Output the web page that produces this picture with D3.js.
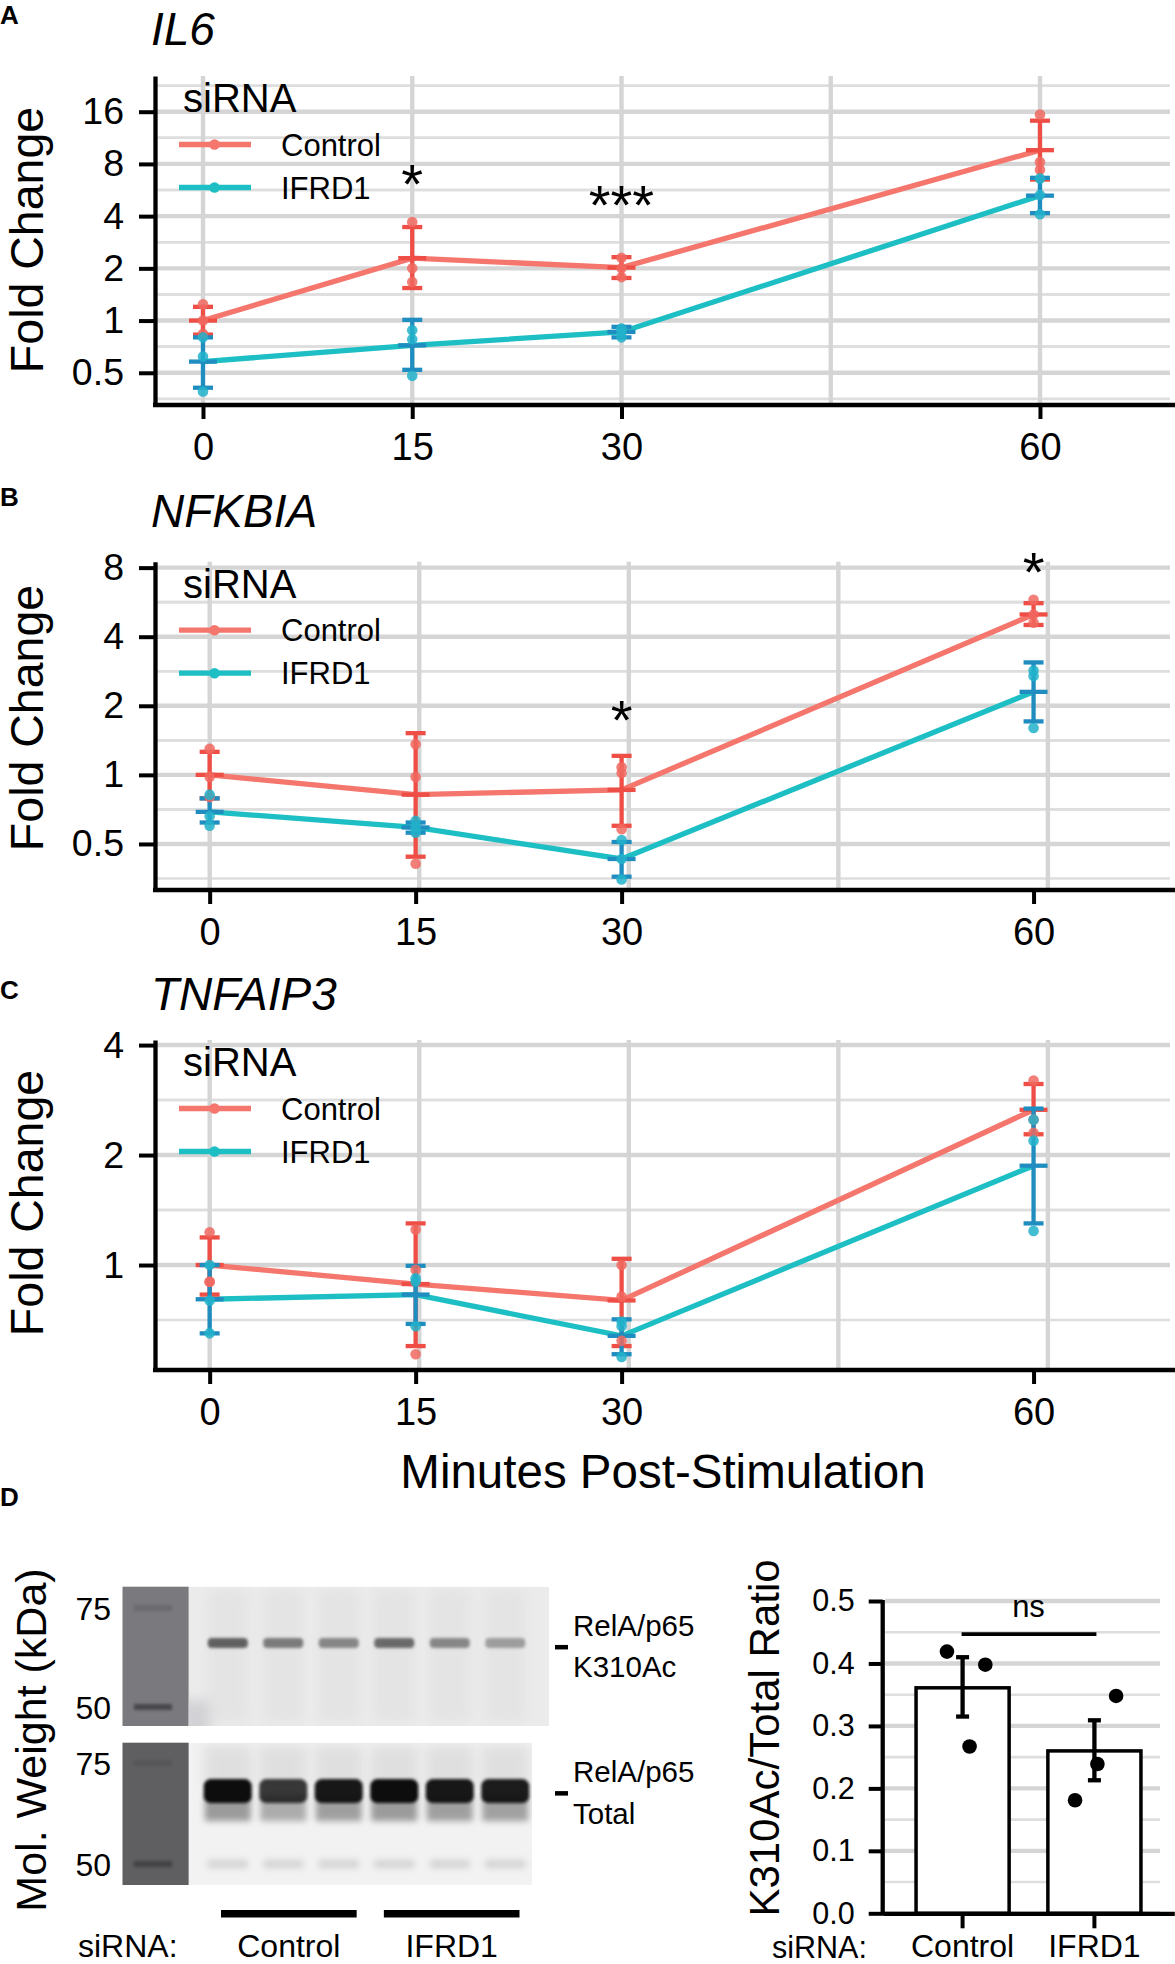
<!DOCTYPE html>
<html>
<head>
<meta charset="utf-8">
<script src="https://cdn.jsdelivr.net/npm/d3@7"></script>
<style>
  body { margin: 0; background: #fff; }
  svg { display: block; }
  text { font-family: "Liberation Sans", Arial, Helvetica, sans-serif; }
</style>
</head>
<body>
<svg id="fig" width="1175" height="1964"></svg>
<script>
// ---- data ----
const minutes = [0, 15, 30, 60]
const gridMinutes = [0, 15, 30, 45, 60]
const groups = ["Control", "IFRD1"]

// IL6
const il6CtrlMean = [1.0, 2.29, 2.02, 9.6]
const il6CtrlLo = [0.83, 1.54, 1.76, 6.5]
const il6CtrlHi = [1.2, 3.46, 2.32, 14.2]
const il6CtrlPts = [[1.24, 1.0, 0.84], [3.7, 2.0, 1.67], [2.3, 2.0, 1.78], [15.4, 8.2, 7.4]]
const il6IfrdMean = [0.58, 0.72, 0.86, 5.25]
const il6IfrdLo = [0.41, 0.52, 0.80, 4.16]
const il6IfrdHi = [0.80, 1.01, 0.92, 6.65]
const il6IfrdPts = [[0.80, 0.62, 0.39], [0.88, 0.78, 0.48], [0.90, 0.86, 0.80], [6.6, 5.3, 4.1]]
const il6Sig = [{ t: 15, v: 6.9, label: "*" }, { t: 30, v: 5.2, label: "***" }]

// NFKBIA
const nfkCtrlMean = [1.0, 0.82, 0.86, 5.0]
const nfkCtrlLo = [0.79, 0.44, 0.60, 4.5]
const nfkCtrlHi = [1.26, 1.52, 1.21, 5.6]
const nfkCtrlPts = [[1.3, 0.98, 0.80], [1.36, 0.98, 0.41], [1.08, 1.02, 0.58], [5.8, 5.0, 4.6]]
const nfkIfrdMean = [0.69, 0.59, 0.43, 2.30]
const nfkIfrdLo = [0.62, 0.56, 0.36, 1.71]
const nfkIfrdHi = [0.79, 0.62, 0.51, 3.09]
const nfkIfrdPts = [[0.82, 0.66, 0.60], [0.63, 0.59, 0.56], [0.52, 0.43, 0.35], [2.85, 2.7, 1.6]]
const nfkSig = [{ t: 30, v: 1.9, label: "*" }, { t: 60, v: 8.34, label: "*" }]

// TNFAIP3
const tnfCtrlMean = [1.0, 0.887, 0.80, 2.66]
const tnfCtrlLo = [0.83, 0.60, 0.60, 2.28]
const tnfCtrlHi = [1.19, 1.30, 1.04, 3.13]
const tnfCtrlPts = [[1.23, 0.90, 0.90], [1.25, 0.97, 0.57], [1.0, 0.82, 0.62], [3.2, 2.5, 2.3]]
const tnfIfrdMean = [0.806, 0.83, 0.64, 1.87]
const tnfIfrdLo = [0.65, 0.69, 0.57, 1.30]
const tnfIfrdHi = [1.0, 0.995, 0.71, 2.68]
const tnfIfrdPts = [[1.0, 0.80, 0.65], [0.92, 0.90, 0.68], [0.70, 0.68, 0.56], [2.5, 2.19, 1.24]]
const tnfSig = []

// western blot (panel D)
const laneIds = [1, 2, 3, 4, 5, 6]
const acBandStrength = [0.78, 0.62, 0.55, 0.72, 0.55, 0.42]
const totalBandStrength = [1.0, 0.8, 0.95, 1.0, 0.95, 0.93]
const kdaTicks = [75, 50]
const bandKdaAc = 65
const bandKdaTotal = 67

// K310Ac / total ratio (panel D, right)
const ratioMean = [0.361, 0.260]
const ratioLo = [0.315, 0.213]
const ratioHi = [0.41, 0.309]
const ratioPts = [[0.419, 0.398, 0.267], [0.348, 0.239, 0.181]]
const ratioJitter = [[-0.168, 0.244, 0.075], [0.233, 0.032, -0.208]]
const ratioTicks = [0, 0.1, 0.2, 0.3, 0.4, 0.5]
const ratioMinor = [0.05, 0.15, 0.25, 0.35, 0.45]

// ---- colours ----
const lineCol = { Control: "#F4766D", IFRD1: "#1DBFC4" }
const barCol = { Control: "#EE4E45", IFRD1: "#1F8DBF" }
const ptCol = { Control: "#F06860", IFRD1: "#22B2CA" }
const gridMajor = "#d5d5d5"
const gridMinor = "#dedede"

const svg = d3.select("#fig")

function styleAxis(g, fs) {
    g.attr("font-family", null).attr("font-size", null)
    g.select(".domain").attr("stroke", "#000").attr("stroke-width", 4.3)
    g.selectAll(".tick line").attr("stroke", "#000").attr("stroke-width", 4)
    g.selectAll(".tick text").attr("fill", "#000").style("font-size", fs + "px")
}

function series(mean, lo, hi, pts) {
    return minutes.map((t, i) => ({ t: t, mean: mean[i], lo: lo[i], hi: hi[i], pts: pts[i] }))
}

const panels = [
    {
        letter: "A", gene: "IL6", top: 76, bottom: 405,
        yDomain: [0.326, 25.7], yTicks: [0.5, 1, 2, 4, 8, 16],
        xDomain: [-3.44, 69.68], gridRange: [203, 1040],
        titleBase: 45, letterBase: 24, yTitleY: 240,
        ctrl: series(il6CtrlMean, il6CtrlLo, il6CtrlHi, il6CtrlPts),
        ifrd: series(il6IfrdMean, il6IfrdLo, il6IfrdHi, il6IfrdPts),
        sig: il6Sig
    },
    {
        letter: "B", gene: "NFKBIA", top: 561.7, bottom: 890,
        yDomain: [0.315, 8.49], yTicks: [0.5, 1, 2, 4, 8],
        xDomain: [-3.98, 70.3], gridRange: [209.7, 1047.9],
        titleBase: 527, letterBase: 506, yTitleY: 718,
        ctrl: series(nfkCtrlMean, nfkCtrlLo, nfkCtrlHi, nfkCtrlPts),
        ifrd: series(nfkIfrdMean, nfkIfrdLo, nfkIfrdHi, nfkIfrdPts),
        sig: nfkSig
    },
    {
        letter: "C", gene: "TNFAIP3", top: 1040, bottom: 1370,
        yDomain: [0.516, 4.13], yTicks: [1, 2, 4],
        xDomain: [-3.98, 70.3], gridRange: [209.7, 1047.9],
        titleBase: 1010, letterBase: 999, yTitleY: 1203,
        ctrl: series(tnfCtrlMean, tnfCtrlLo, tnfCtrlHi, tnfCtrlPts),
        ifrd: series(tnfIfrdMean, tnfIfrdLo, tnfIfrdHi, tnfIfrdPts),
        sig: tnfSig
    }
]

const plotLeft = 155, plotRight = 1175, gridRight = 1170

function drawPanel(p) {
    const g = svg.append("g")
    const x = d3.scaleLinear().domain(p.xDomain).range([plotLeft, plotRight])
    const gx = d3.scaleLinear().domain([0, 60]).range(p.gridRange)
    const y = d3.scaleLog().base(2).domain(p.yDomain).range([p.bottom, p.top])

    const minor = Array.from(new Set(p.yTicks.flatMap(t => [t / Math.SQRT2, t * Math.SQRT2])))
        .filter(v => v > p.yDomain[0] && v < p.yDomain[1])

    // grid
    g.selectAll(".gmin").data(minor).enter().append("line")
        .attr("x1", plotLeft).attr("x2", gridRight)
        .attr("y1", d => y(d)).attr("y2", d => y(d))
        .attr("stroke", gridMinor).attr("stroke-width", 2.6)
    g.selectAll(".gmaj").data(p.yTicks).enter().append("line")
        .attr("x1", plotLeft).attr("x2", gridRight)
        .attr("y1", d => y(d)).attr("y2", d => y(d))
        .attr("stroke", gridMajor).attr("stroke-width", 4.4)
    g.selectAll(".gv").data(gridMinutes).enter().append("line")
        .attr("x1", d => gx(d)).attr("x2", d => gx(d))
        .attr("y1", p.top).attr("y2", p.bottom)
        .attr("stroke", gridMajor).attr("stroke-width", 4.4)

    // lines
    const line = d3.line().x(d => x(d.t)).y(d => y(d.mean))
    const both = [["Control", p.ctrl], ["IFRD1", p.ifrd]]
    both.forEach(([name, s]) => {
        g.append("path").datum(s).attr("d", line)
            .attr("fill", "none").attr("stroke", lineCol[name]).attr("stroke-width", 5.3)
    })

    // error bars + mean crossbars
    both.forEach(([name, s]) => {
        const eb = g.append("g").attr("stroke", barCol[name]).attr("stroke-width", 4.3)
        eb.selectAll(".v").data(s).enter().append("line")
            .attr("x1", d => x(d.t)).attr("x2", d => x(d.t))
            .attr("y1", d => y(d.lo)).attr("y2", d => y(d.hi))
        eb.selectAll(".lo").data(s).enter().append("line")
            .attr("x1", d => x(d.t) - 10).attr("x2", d => x(d.t) + 10)
            .attr("y1", d => y(d.lo)).attr("y2", d => y(d.lo))
        eb.selectAll(".hi").data(s).enter().append("line")
            .attr("x1", d => x(d.t) - 10).attr("x2", d => x(d.t) + 10)
            .attr("y1", d => y(d.hi)).attr("y2", d => y(d.hi))
        eb.selectAll(".m").data(s).enter().append("line")
            .attr("x1", d => x(d.t) - 14).attr("x2", d => x(d.t) + 14)
            .attr("y1", d => y(d.mean)).attr("y2", d => y(d.mean))
    })

    // replicate points
    both.forEach(([name, s]) => {
        const pts = s.flatMap(d => d.pts.map(v => ({ t: d.t, v: v })))
        g.selectAll(".pt-" + name).data(pts).enter().append("circle")
            .attr("cx", d => x(d.t)).attr("cy", d => y(d.v)).attr("r", 5.3)
            .attr("fill", ptCol[name]).attr("fill-opacity", 0.85)
    })

    // axes
    const ay = g.append("g").attr("transform", `translate(${plotLeft},0)`)
        .call(d3.axisLeft(y).tickValues(p.yTicks).tickFormat(d3.format("~g"))
            .tickSize(16).tickSizeOuter(0).tickPadding(15))
    styleAxis(ay, 37.5)
    const ax = g.append("g").attr("transform", `translate(0,${p.bottom})`)
        .call(d3.axisBottom(x).tickValues(minutes).tickFormat(d3.format("d"))
            .tickSize(14).tickSizeOuter(0).tickPadding(14))
    styleAxis(ax, 38)
    ax.select(".domain").attr("d", `M${plotLeft - 2},0H${plotRight}`)

    // legend
    const lg = g.append("g")
    lg.append("text").attr("x", 183).attr("y", p.top + 36)
        .style("font-size", "40px").text("siRNA")
    groups.forEach((name, i) => {
        const ly = p.top + 68.5 + i * 43
        lg.append("line").attr("x1", 179).attr("x2", 251).attr("y1", ly).attr("y2", ly)
            .attr("stroke", lineCol[name]).attr("stroke-width", 5.3)
        lg.append("circle").attr("cx", 214.5).attr("cy", ly).attr("r", 5.3).attr("fill", lineCol[name])
        lg.append("text").attr("x", 281).attr("y", ly + 11)
            .style("font-size", "31px").text(name)
    })

    // significance
    g.selectAll(".sig").data(p.sig).enter().append("text")
        .attr("x", d => x(d.t)).attr("y", d => y(d.v) + 28)
        .attr("text-anchor", "middle").style("font-size", "56px").text(d => d.label)

    // titles
    g.append("text").attr("x", 151).attr("y", p.titleBase)
        .style("font-size", "46px").style("font-style", "italic").text(p.gene)
    g.append("text").attr("x", 0).attr("y", p.letterBase)
        .style("font-size", "26px").style("font-weight", "bold").text(p.letter)
    g.append("text").attr("transform", `translate(43,${p.yTitleY}) rotate(-90)`)
        .attr("text-anchor", "middle").style("font-size", "46.5px").text("Fold Change")
}

panels.forEach(drawPanel)

svg.append("text").attr("x", 663).attr("y", 1488).attr("text-anchor", "middle")
    .style("font-size", "47.5px").text("Minutes Post-Stimulation")

// ---- panel D: blot ----
svg.append("text").attr("x", 0).attr("y", 1506)
    .style("font-size", "26px").style("font-weight", "bold").text("D")

const defs = svg.append("defs")
defs.append("filter").attr("id", "b1").attr("x", "-50%").attr("y", "-100%").attr("width", "200%").attr("height", "300%")
    .append("feGaussianBlur").attr("stdDeviation", 1.6)
defs.append("filter").attr("id", "b3").attr("x", "-50%").attr("y", "-100%").attr("width", "200%").attr("height", "300%")
    .append("feGaussianBlur").attr("stdDeviation", 3)
defs.append("filter").attr("id", "b6").attr("x", "-50%").attr("y", "-50%").attr("width", "200%").attr("height", "200%")
    .append("feGaussianBlur").attr("stdDeviation", 6)
defs.append("clipPath").attr("id", "clipTop")
    .append("rect").attr("x", 188.7).attr("y", 1586.7).attr("width", 360.3).attr("height", 139.3)
defs.append("clipPath").attr("id", "clipBot")
    .append("rect").attr("x", 188.7).attr("y", 1742.7).attr("width", 343.3).attr("height", 142.3)

const lane = d3.scaleBand().domain(laneIds).range([200, 533])
const laneC = d => lane(d) + lane.bandwidth() / 2
const kdaTop = d3.scaleLog().domain([50, 75]).range([1707, 1608])
const kdaBot = d3.scaleLog().domain([50, 75]).range([1864, 1763])

// ladders
const ladder = [
    { y0: 1586.7, y1: 1726, fill: "#7a7a7e", mark: "#3e3e42", scale: kdaTop },
    { y0: 1742.7, y1: 1885, fill: "#5f5f61", mark: "#3c3c3e", scale: kdaBot }
]
ladder.forEach(l => {
    svg.append("rect").attr("x", 122.5).attr("y", l.y0).attr("width", 66.2).attr("height", l.y1 - l.y0)
        .attr("fill", l.fill)
    svg.selectAll(null).data(kdaTicks).enter().append("rect")
        .attr("x", 134).attr("y", d => l.scale(d) - 3).attr("width", 38).attr("height", 6)
        .attr("fill", l.mark).attr("opacity", d => d === 50 ? 0.85 : 0.25).attr("filter", "url(#b1)")
    svg.selectAll(null).data(kdaTicks).enter().append("text")
        .attr("x", 111).attr("y", d => l.scale(d)).attr("dy", "0.36em").attr("text-anchor", "end")
        .style("font-size", "32px").text(d => d)
})

// top blot (K310Ac)
const topG = svg.append("g").attr("clip-path", "url(#clipTop)")
topG.append("rect").attr("x", 188.7).attr("y", 1586.7).attr("width", 360.3).attr("height", 139.3).attr("fill", "#ebebeb")
topG.selectAll(".lanebg").data(laneIds).enter().append("rect")
    .attr("x", d => laneC(d) - 20).attr("y", 1590).attr("width", 40).attr("height", 132)
    .attr("fill", "#e4e4e4").attr("filter", "url(#b6)")
topG.append("rect").attr("x", 180).attr("y", 1700).attr("width", 30).attr("height", 40)
    .attr("fill", "#d2d2d6").attr("filter", "url(#b6)")
topG.selectAll(".band").data(laneIds).enter().append("rect")
    .attr("x", d => laneC(d) - 20).attr("y", kdaTop(bandKdaAc) - 5).attr("width", 40).attr("height", 10)
    .attr("rx", 4).attr("fill", "#3a3a3a").attr("opacity", (d, i) => acBandStrength[i])
    .attr("filter", "url(#b1)")

// bottom blot (total)
const botG = svg.append("g").attr("clip-path", "url(#clipBot)")
botG.append("rect").attr("x", 188.7).attr("y", 1742.7).attr("width", 343.3).attr("height", 142.3).attr("fill", "#f2f2f2")
botG.selectAll(".smear").data(laneIds).enter().append("rect")
    .attr("x", d => laneC(d) - 24).attr("y", 1745).attr("width", 48).attr("height", 45)
    .attr("fill", "#d0d0d0").attr("opacity", 0.55).attr("filter", "url(#b6)")
botG.selectAll(".tail").data(laneIds).enter().append("rect")
    .attr("x", d => laneC(d) - 23).attr("y", kdaBot(bandKdaTotal) + 4).attr("width", 46).attr("height", 26)
    .attr("fill", "#555").attr("opacity", (d, i) => 0.55 * totalBandStrength[i]).attr("filter", "url(#b3)")
botG.selectAll(".faint").data(laneIds).enter().append("rect")
    .attr("x", d => laneC(d) - 20).attr("y", kdaBot(50) - 4).attr("width", 40).attr("height", 8)
    .attr("fill", "#bdbdbd").attr("opacity", 0.6).attr("filter", "url(#b3)")
botG.selectAll(".band").data(laneIds).enter().append("rect")
    .attr("x", d => laneC(d) - 24).attr("y", kdaBot(bandKdaTotal) - 12).attr("width", 48).attr("height", 24)
    .attr("rx", 7).attr("fill", "#111").attr("opacity", (d, i) => totalBandStrength[i])
    .attr("filter", "url(#b1)")

// band markers and labels
const markers = [
    { y: kdaTop(bandKdaAc), lines: ["RelA/p65", "K310Ac"] },
    { y: kdaBot(bandKdaTotal) - 2, lines: ["RelA/p65", "Total"] }
]
markers.forEach(m => {
    svg.append("rect").attr("x", 555).attr("y", m.y + 2).attr("width", 13).attr("height", 4.5).attr("fill", "#000")
    m.lines.forEach((t, i) => {
        svg.append("text").attr("x", 573).attr("y", m.y - 7 + i * 41.5)
            .style("font-size", "29.5px").text(t)
    })
})

// group bars under the blot
const grp = d3.scaleBand().domain(groups).range([221, 519.5]).paddingInner(0.167)
svg.selectAll(".grpbar").data(groups).enter().append("rect")
    .attr("x", d => grp(d)).attr("y", 1910).attr("width", grp.bandwidth()).attr("height", 7.5).attr("fill", "#000")
svg.selectAll(".grplab").data(groups).enter().append("text")
    .attr("x", d => grp(d) + grp.bandwidth() / 2).attr("y", 1957).attr("text-anchor", "middle")
    .style("font-size", "32px").text(d => d)
svg.append("text").attr("x", 78).attr("y", 1957).style("font-size", "32px").text("siRNA:")
svg.append("text").attr("transform", "translate(46,1740) rotate(-90)").attr("text-anchor", "middle")
    .style("font-size", "43px").text("Mol. Weight (kDa)")

// ---- panel D: ratio bar chart ----
const xb = d3.scaleBand().domain(groups).range([882.7, 1174.3]).paddingInner(0.294).paddingOuter(0.253)
const yb = d3.scaleLinear().domain([0, 0.5]).range([1913.3, 1601])
const bg = svg.append("g")

bg.selectAll(".gmin").data(ratioMinor).enter().append("line")
    .attr("x1", 885).attr("x2", 1160).attr("y1", d => yb(d)).attr("y2", d => yb(d))
    .attr("stroke", gridMinor).attr("stroke-width", 2.6)
bg.selectAll(".gmaj").data(ratioTicks).enter().append("line")
    .attr("x1", 885).attr("x2", 1160).attr("y1", d => yb(d)).attr("y2", d => yb(d))
    .attr("stroke", gridMajor).attr("stroke-width", 4.4)

bg.selectAll(".bar").data(groups).enter().append("rect")
    .attr("x", d => xb(d)).attr("width", xb.bandwidth())
    .attr("y", (d, i) => yb(ratioMean[i])).attr("height", (d, i) => yb(0) - yb(ratioMean[i]))
    .attr("fill", "#fff").attr("stroke", "#000").attr("stroke-width", 3.5)

const bc = d => xb(d) + xb.bandwidth() / 2
const ebar = bg.append("g").attr("stroke", "#000").attr("stroke-width", 4.3)
ebar.selectAll(".v").data(groups).enter().append("line")
    .attr("x1", bc).attr("x2", bc).attr("y1", (d, i) => yb(ratioLo[i])).attr("y2", (d, i) => yb(ratioHi[i]))
ebar.selectAll(".lo").data(groups).enter().append("line")
    .attr("x1", d => bc(d) - 6.5).attr("x2", d => bc(d) + 6.5)
    .attr("y1", (d, i) => yb(ratioLo[i])).attr("y2", (d, i) => yb(ratioLo[i]))
ebar.selectAll(".hi").data(groups).enter().append("line")
    .attr("x1", d => bc(d) - 6.5).attr("x2", d => bc(d) + 6.5)
    .attr("y1", (d, i) => yb(ratioHi[i])).attr("y2", (d, i) => yb(ratioHi[i]))

const ratioDots = groups.flatMap((gname, i) => ratioPts[i].map((v, j) => ({ g: gname, v: v, j: ratioJitter[i][j] })))
bg.selectAll(".dot").data(ratioDots).enter().append("circle")
    .attr("cx", d => bc(d.g) + d.j * xb.bandwidth()).attr("cy", d => yb(d.v)).attr("r", 7.3).attr("fill", "#000")

const byAx = bg.append("g").attr("transform", "translate(882.7,0)")
    .call(d3.axisLeft(yb).tickValues(ratioTicks).tickFormat(d3.format(".1f"))
        .tickSize(14).tickSizeOuter(0).tickPadding(14))
styleAxis(byAx, 30.5)
byAx.select(".domain").attr("d", `M0,${yb(0) + 2}V${yb(0.5) - 1}`)
const bxAx = bg.append("g").attr("transform", `translate(0,${yb(0)})`)
    .call(d3.axisBottom(xb).tickSize(15).tickSizeOuter(0).tickPadding(6))
styleAxis(bxAx, 32)
bxAx.selectAll(".tick text").attr("dy", "0.71em")

svg.append("text").attr("x", 772).attr("y", 1957.5).style("font-size", "30.5px").text("siRNA:")
svg.append("text").attr("transform", "translate(779,1738) rotate(-90)").attr("text-anchor", "middle")
    .style("font-size", "42px").text("K310Ac/Total Ratio")

// ns bracket
bg.append("line").attr("x1", bc("Control") - 1).attr("x2", bc("IFRD1") + 2)
    .attr("y1", yb(0.447)).attr("y2", yb(0.447)).attr("stroke", "#000").attr("stroke-width", 3.8)
bg.append("text").attr("x", (bc("Control") + bc("IFRD1")) / 2).attr("y", yb(0.475))
    .attr("text-anchor", "middle").style("font-size", "31px").text("ns")
</script>
</body>
</html>
